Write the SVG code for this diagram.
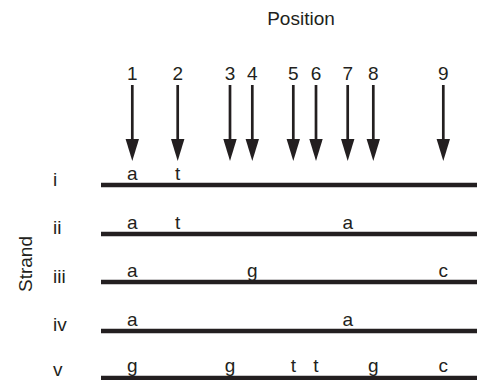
<svg xmlns="http://www.w3.org/2000/svg" width="477" height="380" viewBox="0 0 477 380">
<defs>
<style>
text{font-family:"Liberation Sans",Arial,sans-serif;font-size:19px;fill:#231f20}
.c{text-anchor:middle}
.bar{stroke:#231f20;stroke-width:4.5}
.shaft{stroke:#231f20;stroke-width:2.7}
.head{fill:#231f20}
</style>
</defs>
<rect width="477" height="380" fill="#fff"/>
<text id="title" class="c" x="301" y="25">Position</text>
<text id="strand" class="c" transform="translate(32,264) rotate(-90)">Strand</text>
<g id="connectors">
<g id="arrow1"><line class="shaft" x1="132.3" y1="85" x2="132.3" y2="142"/><polygon class="head" points="125.6,139 139,139 132.3,161"/></g>
<g id="arrow2"><line class="shaft" x1="177.7" y1="85" x2="177.7" y2="142"/><polygon class="head" points="171,139 184.4,139 177.7,161"/></g>
<g id="arrow3"><line class="shaft" x1="230" y1="85" x2="230" y2="142"/><polygon class="head" points="223.3,139 236.7,139 230,161"/></g>
<g id="arrow4"><line class="shaft" x1="252.3" y1="85" x2="252.3" y2="142"/><polygon class="head" points="245.6,139 259,139 252.3,161"/></g>
<g id="arrow5"><line class="shaft" x1="293.3" y1="85" x2="293.3" y2="142"/><polygon class="head" points="286.6,139 300,139 293.3,161"/></g>
<g id="arrow6"><line class="shaft" x1="316" y1="85" x2="316" y2="142"/><polygon class="head" points="309.3,139 322.7,139 316,161"/></g>
<g id="arrow7"><line class="shaft" x1="347.7" y1="85" x2="347.7" y2="142"/><polygon class="head" points="341,139 354.4,139 347.7,161"/></g>
<g id="arrow8"><line class="shaft" x1="373.3" y1="85" x2="373.3" y2="142"/><polygon class="head" points="366.6,139 380,139 373.3,161"/></g>
<g id="arrow9"><line class="shaft" x1="443.3" y1="85" x2="443.3" y2="142"/><polygon class="head" points="436.6,139 450,139 443.3,161"/></g>
</g>
<g id="positions">
<text class="c" x="132.3" y="80">1</text>
<text class="c" x="177.7" y="80">2</text>
<text class="c" x="230" y="80">3</text>
<text class="c" x="252.3" y="80">4</text>
<text class="c" x="293.3" y="80">5</text>
<text class="c" x="316" y="80">6</text>
<text class="c" x="347.7" y="80">7</text>
<text class="c" x="373.3" y="80">8</text>
<text class="c" x="443.3" y="80">9</text>
</g>
<g id="strand-i">
<line class="bar" x1="101" y1="185" x2="477" y2="185"/>
<text x="53" y="186">i</text>
<text class="c" x="132.3" y="180">a</text>
<text class="c" x="177.7" y="180">t</text>
</g>
<g id="strand-ii">
<line class="bar" x1="101" y1="234" x2="477" y2="234"/>
<text x="53" y="234">ii</text>
<text class="c" x="132.3" y="229">a</text>
<text class="c" x="177.7" y="229">t</text>
<text class="c" x="347.7" y="229">a</text>
</g>
<g id="strand-iii">
<line class="bar" x1="101" y1="282" x2="477" y2="282"/>
<text x="53" y="283">iii</text>
<text class="c" x="132.3" y="277">a</text>
<text class="c" x="252.3" y="277">g</text>
<text class="c" x="443.3" y="277">c</text>
</g>
<g id="strand-iv">
<line class="bar" x1="101" y1="331" x2="477" y2="331"/>
<text x="53" y="331">iv</text>
<text class="c" x="132.3" y="326">a</text>
<text class="c" x="347.7" y="326">a</text>
</g>
<g id="strand-v">
<line class="bar" x1="101" y1="378" x2="477" y2="378"/>
<text x="53" y="376">v</text>
<text class="c" x="132.3" y="372">g</text>
<text class="c" x="230" y="372">g</text>
<text class="c" x="293.3" y="372">t</text>
<text class="c" x="316" y="372">t</text>
<text class="c" x="373.3" y="372">g</text>
<text class="c" x="443.3" y="372">c</text>
</g>
</svg>
